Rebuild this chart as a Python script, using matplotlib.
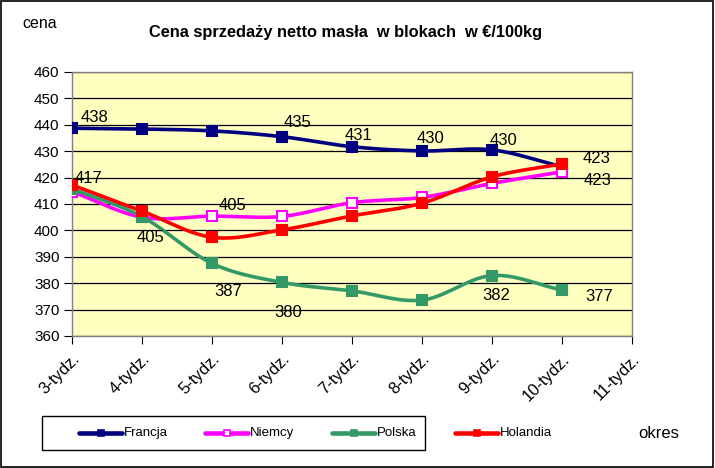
import numpy as np
import matplotlib.pyplot as plt
from matplotlib.lines import Line2D

plt.rcParams['font.family'] = ['Liberation Sans', 'DejaVu Sans']

# --- data ---
weeks = ['3-tydz.', '4-tydz.', '5-tydz.', '6-tydz.', '7-tydz.', '8-tydz.', '9-tydz.', '10-tydz.', '11-tydz.']
francja = [438.7, 438.4, 437.7, 435.5, 431.7, 430.1, 430.5, 424.1]
niemcy = [414.7, 405.0, 405.4, 405.3, 410.5, 412.5, 417.8, 422.2]
polska = [415.7, 405.2, 387.5, 380.3, 377.1, 373.6, 382.9, 377.4]
holandia = [417.2, 407.3, 397.4, 400.2, 405.5, 410.3, 420.3, 425.2]

# data labels shown on the chart: (point index, text)
labels_francja = [(0, '438'), (3, '435'), (4, '431'), (5, '430'), (6, '430'), (7, '423')]
labels_polska = [(0, '417'), (1, '405'), (2, '387'), (3, '380'), (6, '382'), (7, '377')]
labels_niemcy = [(2, '405'), (7, '423')]


def smooth(xs, ys, n=30):
    # Bezier smoothing similar to Excel's "smoothed line", done in pixel-like space
    sx_, sy_ = 70.0, 2.64
    xs = np.asarray(xs, float) * sx_
    ys = np.asarray(ys, float) * sy_
    px = np.concatenate([[2 * xs[0] - xs[1]], xs, [2 * xs[-1] - xs[-2]]])
    py = np.concatenate([[2 * ys[0] - ys[1]], ys, [2 * ys[-1] - ys[-2]]])
    ox, oy = [], []
    for i in range(1, len(px) - 2):
        p0, p1, p2, p3 = [np.array([px[j], py[j]]) for j in (i - 1, i, i + 1, i + 2)]
        c1 = p1 + (p2 - p0) / 6.0
        c2 = p2 - (p3 - p1) / 6.0
        t = np.linspace(0, 1, n)[:, None]
        b = (1 - t) ** 3 * p1 + 3 * (1 - t) ** 2 * t * c1 + 3 * (1 - t) * t ** 2 * c2 + t ** 3 * p2
        ox.extend(b[:, 0])
        oy.extend(b[:, 1])
    return np.array(ox) / sx_, np.array(oy) / sy_


fig = plt.figure(figsize=(7.15, 4.68), dpi=100)
fig.patch.set_facecolor('white')
fig.add_artist(plt.Rectangle((0.002, 0.003), 0.995, 0.994, transform=fig.transFigure,
                             fill=False, edgecolor='black', linewidth=1.2))

ax = fig.add_axes([72 / 715, 1 - 336 / 468, (632 - 72) / 715, (336 - 72) / 468])
ax.set_facecolor('#FFFFC0')
for s in ax.spines.values():
    s.set_color('#808080')
    s.set_linewidth(1.0)

x = np.arange(len(francja))
series = [
    ('Francja', francja, '#000080', '#000080'),
    ('Niemcy', niemcy, '#FF00FF', 'white'),
    ('Polska', polska, '#339966', '#339966'),
    ('Holandia', holandia, '#FF0000', '#FF0000'),
]
for name, vals, col, face in series:
    sx, sy = smooth(x, vals)
    ax.plot(sx, sy, color=col, linewidth=2.6, zorder=3, solid_capstyle='round')
    ax.plot(x, vals, linestyle='none', marker='s', markersize=6.5, markerfacecolor=face,
            markeredgecolor=col, markeredgewidth=1.5, zorder=4)

ax.set_xlim(0, 8)
ax.set_ylim(360, 460)
ax.set_yticks(np.arange(360, 461, 10))
ax.yaxis.grid(True, color='black', linewidth=0.9)
ax.set_axisbelow(True)
ax.set_xticks(np.arange(len(weeks)))
ax.set_xticklabels(weeks, rotation=45, ha='right', va='top', rotation_mode='anchor', fontsize=12)
ax.tick_params(axis='x', length=6, color='black', pad=5)
ax.tick_params(axis='y', length=6, color='black', labelsize=11, pad=3)

# data labels (offsets in data units)
fs = 12
offs_f = {0: (0.12, 4.0), 3: (0.02, 5.4), 4: (-0.1, 4.3), 5: (-0.07, 4.8), 6: (-0.03, 3.7), 7: (0.29, 3.2)}
for i, t in labels_francja:
    dx, dy = offs_f[i]
    ax.text(x[i] + dx, francja[i] + dy, t, fontsize=fs, ha='left', va='center', zorder=5)
offs_p = {0: (0.04, 3.9), 1: (-0.07, -8.0), 2: (0.03, -10.7), 3: (-0.11, -11.5), 6: (-0.14, -7.4), 7: (0.33, -2.3)}
for i, t in labels_polska:
    dx, dy = offs_p[i]
    ax.text(x[i] + dx, polska[i] + dy, t, fontsize=fs, ha='left', va='center', zorder=5)
offs_n = {2: (0.09, 4.2), 7: (0.31, -3.4)}
for i, t in labels_niemcy:
    dx, dy = offs_n[i]
    ax.text(x[i] + dx, niemcy[i] + dy, t, fontsize=fs, ha='left', va='center', zorder=5)

fig.text(345.5 / 715, 1 - 33 / 468, 'Cena sprzedaży netto masła  w blokach  w €/100kg',
         ha='center', va='center', fontsize=11.75, fontweight='bold')
fig.text(22 / 715, 1 - 23 / 468, 'cena', ha='left', va='center', fontsize=11.5)
fig.text(638 / 715, 1 - 434 / 468, 'okres', ha='left', va='center', fontsize=12)

# legend box drawn by hand to match the original layout
fig.add_artist(plt.Rectangle((42 / 715, 1 - 450 / 468), (425 - 42) / 715, 34 / 468,
                             transform=fig.transFigure, fill=False, edgecolor='black', linewidth=1.0))
leg_x = [79, 205, 332, 455]
leg_y = 1 - 433 / 468
for (name, vals, col, face), lx in zip(series, leg_x):
    fig.add_artist(Line2D([lx / 715, (lx + 43) / 715], [leg_y, leg_y], transform=fig.transFigure,
                          color=col, linewidth=3.3, solid_capstyle='round'))
    fig.add_artist(Line2D([(lx + 21.5) / 715], [leg_y], transform=fig.transFigure, marker='s',
                          markersize=5, markerfacecolor=face, markeredgecolor=col, markeredgewidth=1.2))
    fig.text((lx + 45) / 715, leg_y, name, ha='left', va='center', fontsize=9.5)

fig.savefig('out.png', dpi=100)
